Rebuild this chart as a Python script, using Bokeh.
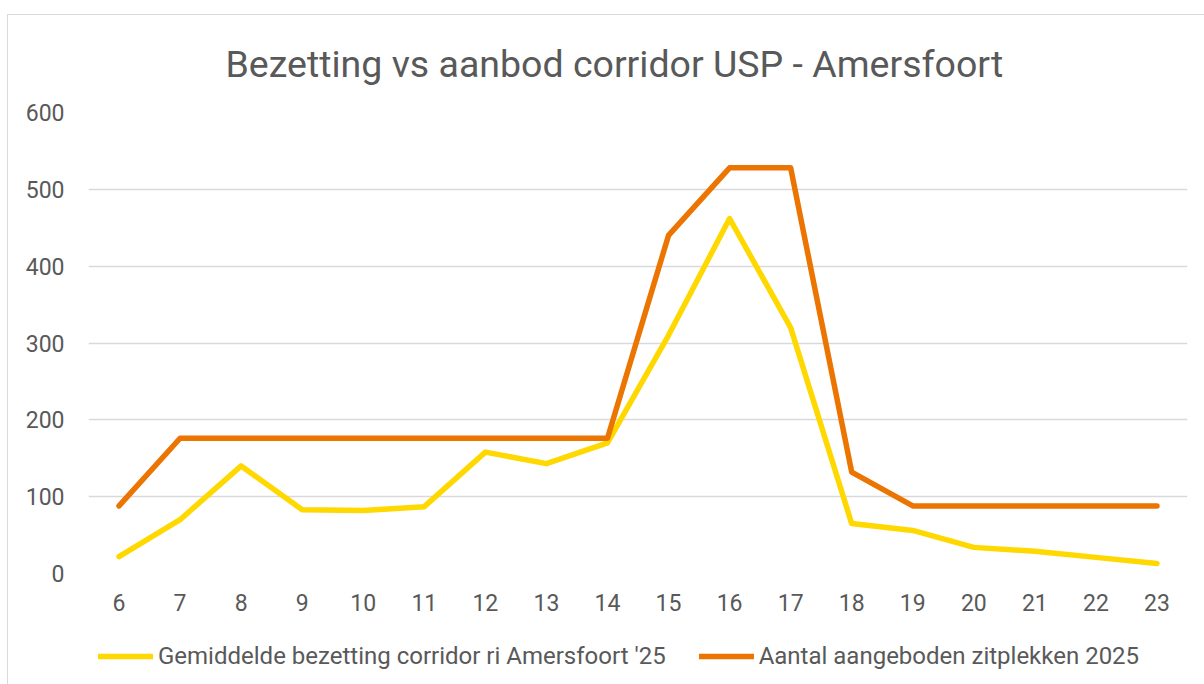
from bokeh.plotting import figure
from bokeh.models import Legend, LegendItem, Range1d, FactorRange, FixedTicker, Spacer
from bokeh.layouts import column, row
from bokeh.embed import file_html
from bokeh.resources import INLINE

# ---- data ----
hours = ["6", "7", "8", "9", "10", "11", "12", "13", "14", "15",
         "16", "17", "18", "19", "20", "21", "22", "23"]
bezetting = [22, 70, 140, 83, 82, 87, 158, 143, 170, 310,
             462, 320, 65, 56, 34, 29, 21, 13]
aanbod = [88, 176, 176, 176, 176, 176, 176, 176, 176, 440,
          528, 528, 132, 88, 88, 88, 88, 88]
y_ticks = [0, 100, 200, 300, 400, 500, 600]

title_text = "Bezetting vs aanbod corridor USP - Amersfoort"
label_bez = "Gemiddelde bezetting corridor ri Amersfoort '25"
label_aan = "Aantal aangeboden zitplekken 2025"

FONT = "Roboto"
TXT = "#595959"
GRID = "#D9D9D9"
YELLOW = "#FFD800"
ORANGE = "#EC7400"

p = figure(width=1196, height=615,
           x_range=FactorRange(*hours, range_padding=0),
           y_range=Range1d(0, 600),
           output_backend="svg", toolbar_location=None,
           min_border_left=80, min_border_right=17,
           min_border_top=97, min_border_bottom=57)

p.title.text = title_text
p.title.align = "left"
p.title.offset = 137
p.title.vertical_align = "top"
p.title.standoff = 50
p.title.text_font = FONT
p.title.text_font_size = "37.5px"
p.title.text_font_style = "normal"
p.title.text_color = TXT

p.outline_line_color = None
p.background_fill_color = "white"
p.border_fill_color = "white"

p.xgrid.grid_line_color = None
p.ygrid.grid_line_color = GRID
p.ygrid.grid_line_width = 1.3

p.yaxis.ticker = FixedTicker(ticks=y_ticks)
for ax in (p.xaxis, p.yaxis):
    ax.axis_line_color = None
    ax.major_tick_line_color = None
    ax.minor_tick_line_color = None
    ax.major_label_text_font = FONT
    ax.major_label_text_font_size = "23px"
    ax.major_label_text_color = TXT
p.yaxis.major_label_standoff = 18
p.xaxis.major_label_standoff = 14

p.line(hours, bezetting, line_color=YELLOW, line_width=5.5,
       line_cap="round", line_join="round")
p.line(hours, aanbod, line_color=ORANGE, line_width=5.5,
       line_cap="round", line_join="round")

# legend strip below the chart (its lines lie outside its visible range,
# only the legend swatches show)
lf = figure(width=1196, height=54,
            x_range=FactorRange(*hours, range_padding=0),
            y_range=Range1d(-2000, -1000),
            output_backend="svg", toolbar_location=None,
            min_border=0, x_axis_location=None, y_axis_location=None)
lf.outline_line_color = None
lf.grid.grid_line_color = None
lf.border_fill_color = "white"
lg1 = lf.line(hours, bezetting, line_color=YELLOW, line_width=5.5, line_cap="round")
lg2 = lf.line(hours, aanbod, line_color=ORANGE, line_width=5.5, line_cap="round")

legend = Legend(items=[LegendItem(label=label_bez, renderers=[lg1]),
                       LegendItem(label=label_aan, renderers=[lg2])],
                orientation="horizontal", location=(10, 14),
                label_text_font=FONT, label_text_font_size="24px",
                label_text_color=TXT, border_line_color=None,
                background_fill_alpha=0, glyph_width=55, glyph_height=20,
                label_standoff=5, spacing=33, margin=0, padding=0)
lf.add_layout(legend, "center")

inner = column(p, lf, spacing=0)
inner.styles = {"outline": "1px solid #D9D9D9"}
layout = column(Spacer(height=15), row(Spacer(width=8), inner))
open("out.html", "w").write(file_html(layout, INLINE))
